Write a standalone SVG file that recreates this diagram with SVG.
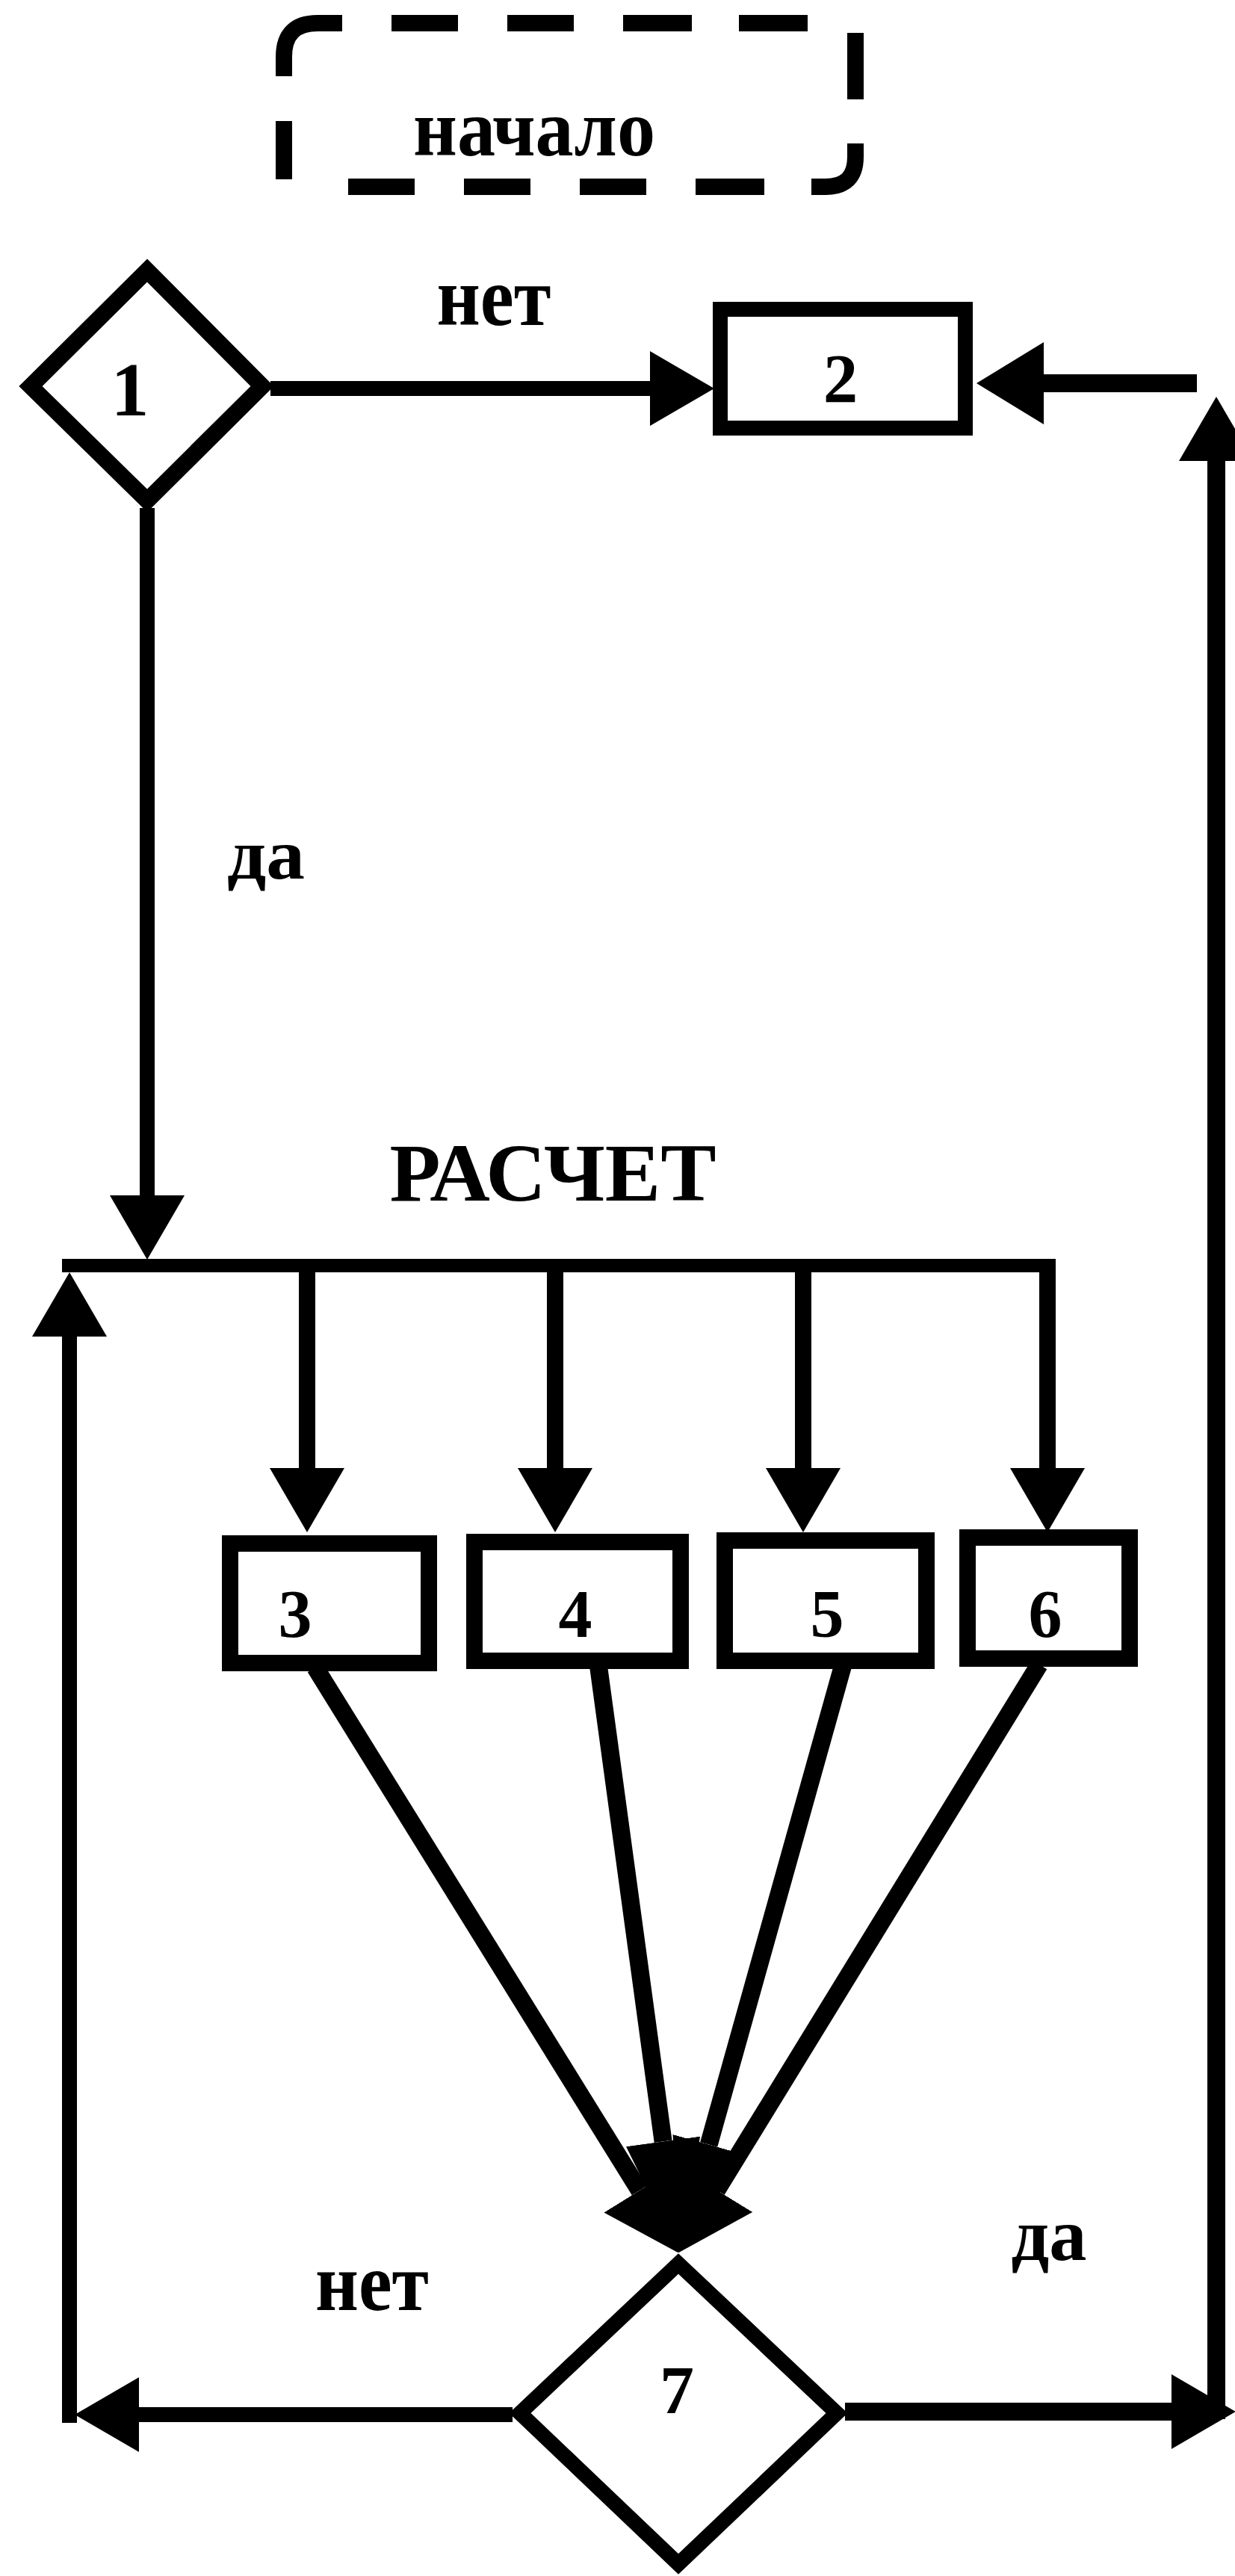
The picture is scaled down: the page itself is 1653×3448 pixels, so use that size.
<svg xmlns="http://www.w3.org/2000/svg" width="1653" height="3448" viewBox="0 0 1653 3448">
<style>
.lbl{font-family:"Liberation Serif","DejaVu Serif",serif;font-weight:bold;fill:#000;text-anchor:middle}
.num{font-size:92px}
.shape{fill:none;stroke:#000;stroke-linejoin:miter}
.box{stroke-width:22}
.dia{stroke-width:20}
.dash{fill:none;stroke:#000;stroke-width:22;stroke-linecap:butt}
.ln{fill:none;stroke:#000;stroke-width:20;stroke-linecap:butt}
.arr{marker-end:url(#ah)}
.arrD{marker-end:url(#ahD)}
.arrV{marker-end:url(#ahV)}
</style>
<defs>
<marker id="ah" markerUnits="userSpaceOnUse" markerWidth="86" markerHeight="100" refX="0" refY="50" orient="auto" viewBox="0 0 86 100">
<path d="M0,0 L86,50 L0,100 Z" fill="#000"/>
</marker>
<marker id="ahL" markerUnits="userSpaceOnUse" markerWidth="90" markerHeight="110" refX="0" refY="55" orient="auto" viewBox="0 0 90 110">
<path d="M0,0 L90,55 L0,110 Z" fill="#000"/>
</marker>
<marker id="ahD" markerUnits="userSpaceOnUse" markerWidth="98" markerHeight="112" refX="0" refY="56" orient="auto" viewBox="0 0 98 112">
<path d="M0,0 L98,56 L0,112 Z" fill="#000"/>
</marker>
<marker id="ahV" markerUnits="userSpaceOnUse" markerWidth="150" markerHeight="100" refX="0" refY="50" orient="auto" viewBox="0 0 150 100">
<path d="M0,0 L150,50 L0,100 Z" fill="#000"/>
</marker>
</defs>
<rect x="0" y="0" width="1653" height="3448" fill="#fff"/>

<g id="connectors">
<line class="ln arr" x1="362" y1="520" x2="870" y2="520"/>
<line class="ln" x1="1602" y1="513" x2="1397" y2="513" style="stroke-width:24;marker-end:url(#ahL)"/>
<line class="ln arr" x1="1628" y1="3238" x2="1628" y2="617" style="stroke-width:24"/>
<line class="ln arr" x1="1131" y1="3228" x2="1568" y2="3228" style="stroke-width:24"/>
<line class="ln arr" x1="686" y1="3232" x2="186" y2="3232"/>
<line class="ln arr" x1="93" y1="3243" x2="93" y2="1789"/>
<line class="ln arr" x1="197" y1="680" x2="197" y2="1600"/>
<line class="ln" x1="83" y1="1694" x2="1413" y2="1694" style="stroke-width:18"/>
<line class="ln arr" x1="411" y1="1689" x2="411" y2="1965" style="stroke-width:22"/>
<line class="ln arr" x1="743" y1="1689" x2="743" y2="1965" style="stroke-width:22"/>
<line class="ln arr" x1="1075" y1="1689" x2="1075" y2="1965" style="stroke-width:22"/>
<line class="ln arr" x1="1402" y1="1689" x2="1402" y2="1965" style="stroke-width:22"/>
<line class="ln arrD" x1="422" y1="2232" x2="856" y2="2932" style="stroke-width:24"/>
<line class="ln arrV" x1="801" y1="2230" x2="887.6" y2="2866.4" style="stroke-width:24"/>
<line class="ln arrV" x1="1128" y1="2230" x2="948.7" y2="2870.6" style="stroke-width:24"/>
<line class="ln arrD" x1="1391" y1="2228" x2="959.4" y2="2931.6" style="stroke-width:24"/>
<text class="lbl" x="661" y="435" style="font-size:112px" textLength="153" lengthAdjust="spacingAndGlyphs">нет</text>
<text class="lbl" x="356" y="1176" style="font-size:96px" textLength="104" lengthAdjust="spacingAndGlyphs">да</text>
<text class="lbl" x="498" y="3092" style="font-size:110px" textLength="152" lengthAdjust="spacingAndGlyphs">нет</text>
<text class="lbl" x="1404" y="3025" style="font-size:100px" textLength="101" lengthAdjust="spacingAndGlyphs">да</text>
<text class="lbl" x="740" y="1607" style="font-size:110px" textLength="437" lengthAdjust="spacingAndGlyphs">РАСЧЕТ</text>
</g>

<g id="node-start">
<path class="dash" d="M380,102 L380,76 Q380,31 425,31 L458,31 M524,31 L613,31 M679,31 L768,31 M834,31 L926,31 M989,31 L1081,31 M1145,44 L1145,133 M1145,192 L1145,210 Q1145,250 1105,250 L1086,250 M1023,250 L931,250 M865,250 L776,250 M710,250 L621,250 M555,250 L466,250 M380,162 L380,240"/>
<text class="lbl" x="715" y="208" style="font-size:108px" textLength="324" lengthAdjust="spacingAndGlyphs">начало</text>
</g>

<g id="node-1">
<polygon class="shape dia" points="197,362 351,517 197,670 41,517" style="stroke-width:22"/>
<text class="lbl" x="174" y="556" style="font-size:102px">1</text>
</g>

<g id="node-2">
<rect class="shape box" x="964" y="414" width="328" height="159" style="stroke-width:20"/>
<text class="lbl" x="1125" y="538" style="font-size:93px">2</text>
</g>

<g id="node-3">
<rect class="shape box" x="308" y="2066" width="266" height="160"/>
<text class="lbl" x="395" y="2191" style="font-size:90px">3</text>
</g>

<g id="node-4">
<rect class="shape box" x="635" y="2064" width="276" height="159"/>
<text class="lbl" x="770" y="2191" style="font-size:90px">4</text>
</g>

<g id="node-5">
<rect class="shape box" x="970" y="2062" width="270" height="161"/>
<text class="lbl" x="1107" y="2191" style="font-size:90px">5</text>
</g>

<g id="node-6">
<rect class="shape box" x="1295" y="2058" width="217" height="162"/>
<text class="lbl" x="1399" y="2191" style="font-size:90px">6</text>
</g>

<g id="node-7">
<polygon class="shape dia" points="908,3030 1120,3230 908,3432 696,3230"/>
<text class="lbl num" x="906" y="3230">7</text>
</g>
</svg>
